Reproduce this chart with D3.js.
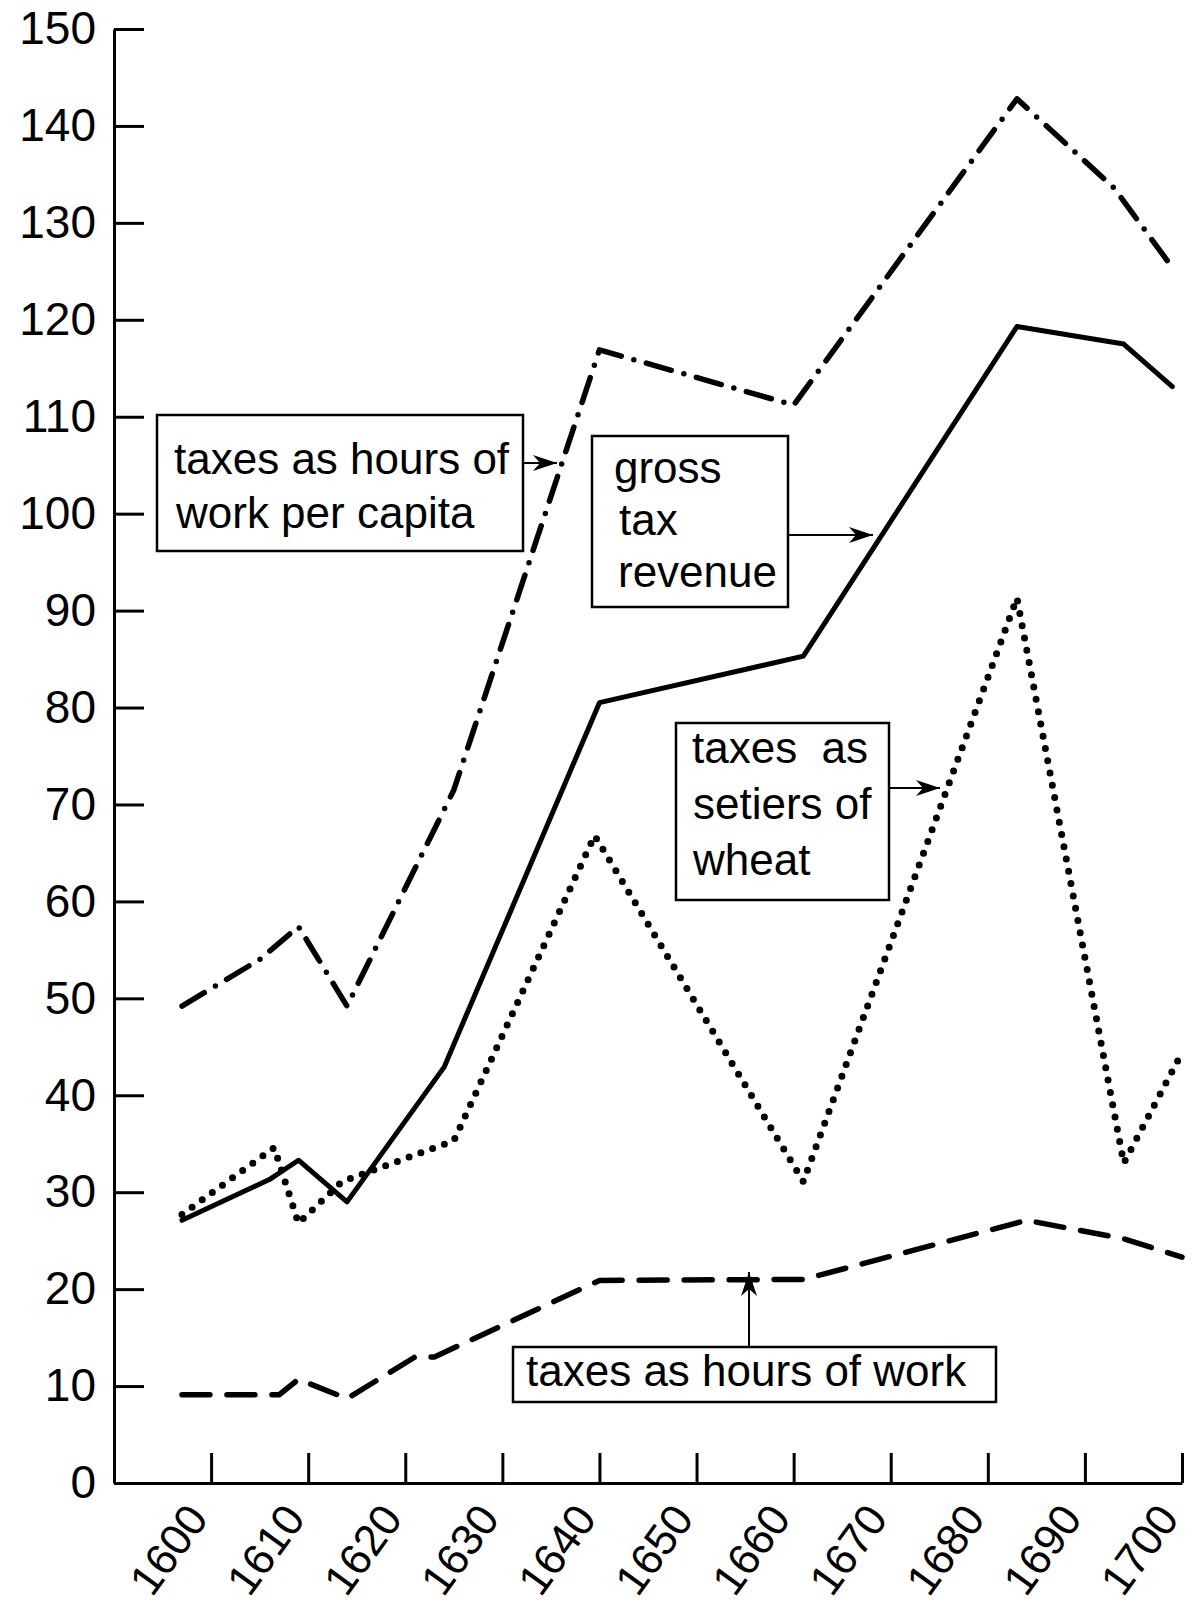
<!DOCTYPE html>
<html>
<head>
<meta charset="utf-8">
<script src="https://cdn.jsdelivr.net/npm/d3@7"></script>
<style>
  body { margin: 0; background: #fff; }
  svg { display: block; }
  .axis path, .axis line { stroke: #000; stroke-width: 3; }
  .axis text { font-family: "Liberation Sans", Arial, sans-serif; fill: #000; }
  .note text { font-family: "Liberation Sans", Arial, sans-serif; font-size: 44px; fill: #000; }
</style>
</head>
<body>
<div id="chart"></div>
<script>
// values (index = 100)
var perCapitaYears = [1597, 1605, 1609, 1614, 1625, 1640, 1660, 1683, 1693, 1699];
var perCapitaValues = [49.2, 54, 57.4, 49.2, 71.5, 116.9, 111.2, 142.8, 133.6, 125.4];

var grossYears = [1597, 1606, 1609, 1614, 1624, 1640, 1661, 1683, 1694, 1699];
var grossValues = [27.1, 31.3, 33.3, 29.0, 42.9, 80.5, 85.3, 119.3, 117.5, 113.1];

var wheatYears = [1597, 1606.5, 1609, 1613.5, 1625, 1639.5, 1661, 1683, 1694, 1700];
var wheatValues = [27.7, 34.6, 26.8, 31.1, 35.3, 66.8, 31.1, 91.3, 33.0, 44.4];

var hoursYears = [1597, 1607, 1609, 1614, 1621, 1623, 1640, 1661, 1684, 1694, 1700];
var hoursValues = [9.1, 9.1, 10.7, 8.7, 13.0, 13.0, 20.9, 21.0, 27.1, 25.2, 23.3];

var xTicks = [1600, 1610, 1620, 1630, 1640, 1650, 1660, 1670, 1680, 1690, 1700];
var yTicks = [0, 10, 20, 30, 40, 50, 60, 70, 80, 90, 100, 110, 120, 130, 140, 150];

var width = 1197, height = 1608;

var svg = d3.select("#chart").append("svg")
    .attr("width", width)
    .attr("height", height);

var x = d3.scaleLinear().domain([1590, 1700]).range([114, 1182]);
var y = d3.scaleLinear().domain([0, 150]).range([1483, 29]);

//Axes, ticks pointing into the plot
svg.append("g")
    .attr("class", "axis")
    .attr("transform", "translate(" + x(1590) + ",0)")
    .call(d3.axisLeft(y).tickValues(yTicks).tickSizeInner(-30).tickSizeOuter(0).tickPadding(18))
    .selectAll("text")
    .style("font-size", "46px");

var xAxis = svg.append("g")
    .attr("class", "axis")
    .attr("transform", "translate(0," + y(0) + ")")
    .call(d3.axisBottom(x).tickValues(xTicks).tickFormat(d3.format("d")).tickSizeInner(-30).tickSizeOuter(0));

xAxis.selectAll("text")
    .style("font-size", "44px")
    .attr("text-anchor", "end")
    .attr("y", 0)
    .attr("dy", 0)
    .attr("transform", "translate(-2,36) rotate(-54)");

//Lines
function series(years, values) {
    return years.map(function(d, i) { return [d, values[i]]; });
}

var line = d3.line()
    .x(function(d) { return x(d[0]); })
    .y(function(d) { return y(d[1]); });

var lines = [
    {data: series(perCapitaYears, perCapitaValues), dash: "26,13,0,13", w: 5.5},
    {data: series(grossYears, grossValues), dash: null, w: 5},
    {data: series(wheatYears, wheatValues), dash: "0,12.5", w: 7},
    {data: series(hoursYears, hoursValues), dash: "28,17", w: 5.5}
];

svg.selectAll(".series")
    .data(lines)
    .enter()
    .append("path")
    .attr("class", "series")
    .attr("d", function(d) { return line(d.data); })
    .attr("fill", "none")
    .attr("stroke", "#000")
    .attr("stroke-width", function(d) { return d.w; })
    .attr("stroke-linecap", "round")
    .attr("stroke-linejoin", "round")
    .attr("stroke-dasharray", function(d) { return d.dash; });

//Arrow head
svg.append("defs").append("marker")
    .attr("id", "head")
    .attr("viewBox", "-26 -10 28 20")
    .attr("refX", 0)
    .attr("refY", 0)
    .attr("markerWidth", 28)
    .attr("markerHeight", 20)
    .attr("markerUnits", "userSpaceOnUse")
    .attr("orient", "auto")
    .append("path")
    .attr("d", "M0,0 L-24,-8 L-17,0 L-24,8 Z")
    .attr("fill", "#000");

//Labelled boxes: each line gets its own x offset
var notes = [
    {box: [157, 415, 366, 136], lines: ["taxes as hours of", "work per capita"], tx: [174, 176], ty: 474, lh: 54,
     arrow: [523, 463, 557, 463]},
    {box: [592, 436, 196, 171], lines: ["gross", "tax", "revenue"], tx: [614, 619, 618], ty: 483, lh: 52,
     arrow: [788, 535, 873, 535]},
    {box: [676, 723, 213, 177], lines: ["taxes  as", "setiers of", "wheat"], tx: [692, 693, 693], ty: 763, lh: 56,
     arrow: [889, 788, 940, 788]},
    {box: [513, 1347, 483, 55], lines: ["taxes as hours of work"], tx: [526], ty: 1386, lh: 0,
     arrow: [749, 1347, 749, 1272]}
];

var note = svg.selectAll(".note")
    .data(notes)
    .enter()
    .append("g")
    .attr("class", "note");

note.append("rect")
    .attr("x", function(d) { return d.box[0]; })
    .attr("y", function(d) { return d.box[1]; })
    .attr("width", function(d) { return d.box[2]; })
    .attr("height", function(d) { return d.box[3]; })
    .attr("fill", "#fff")
    .attr("stroke", "#000")
    .attr("stroke-width", 2.5);

note.append("line")
    .attr("x1", function(d) { return d.arrow[0]; })
    .attr("y1", function(d) { return d.arrow[1]; })
    .attr("x2", function(d) { return d.arrow[2]; })
    .attr("y2", function(d) { return d.arrow[3]; })
    .attr("stroke", "#000")
    .attr("stroke-width", 2)
    .attr("marker-end", "url(#head)");

note.each(function(d) {
    var g = d3.select(this);
    d.lines.forEach(function(t, i) {
        g.append("text")
            .attr("x", d.tx[i])
            .attr("y", d.ty + i * d.lh)
            .style("white-space", "pre")
            .text(t);
    });
});
</script>
</body>
</html>
